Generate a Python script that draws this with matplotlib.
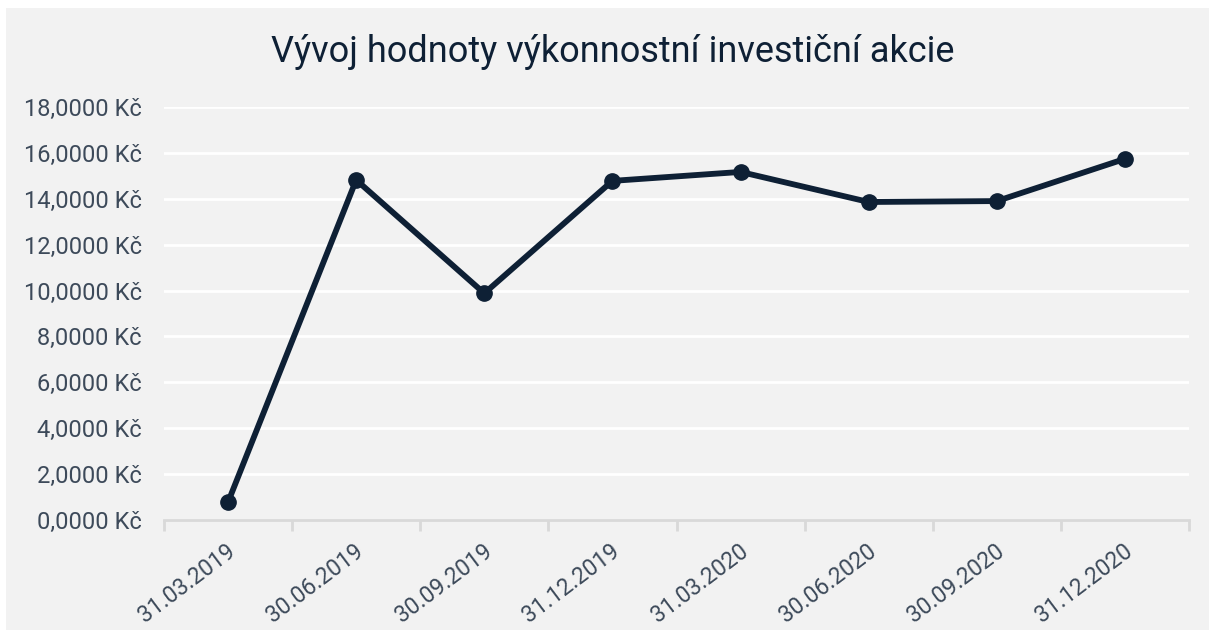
import matplotlib
matplotlib.use("Agg")
import matplotlib.pyplot as plt
from matplotlib.patches import Rectangle
from matplotlib.ticker import FuncFormatter, FixedLocator
from matplotlib.transforms import ScaledTranslation

dates = ["31.03.2019", "30.06.2019", "30.09.2019", "31.12.2019",
         "31.03.2020", "30.06.2020", "30.09.2020", "31.12.2020"]
values = [0.78, 14.82, 9.88, 14.78, 15.17, 13.86, 13.90, 15.74]
title = "Vývoj hodnoty výkonnostní investiční akcie"

W, H, DPI = 1215, 637, 100
fig = plt.figure(figsize=(W / DPI, H / DPI), dpi=DPI, facecolor="white")
bg = Rectangle((6 / W, 1 - 630 / H), (1209 - 6) / W, (630 - 8) / H,
               transform=fig.transFigure, facecolor="#f2f2f2",
               edgecolor="none", zorder=-10)
fig.add_artist(bg)

text_color = "#3d4a5a"
line_color = "#0e2035"
font = ["Roboto", "DejaVu Sans"]

left, right, top, bottom = 164, 1189, 107, 520
ax = fig.add_axes([left / W, 1 - bottom / H, (right - left) / W, (bottom - top) / H])
ax.set_facecolor("none")
ax.set_zorder(5)

x = list(range(len(dates)))
ax.plot(x, values, color=line_color, lw=4.2, marker="o", ms=11,
        solid_capstyle="round", zorder=3, clip_on=False)

ax.set_xlim(-0.5, len(dates) - 0.5)
ax.set_ylim(0, 18)
ax.set_yticks(range(0, 19, 2))
ax.yaxis.set_major_formatter(FuncFormatter(lambda v, p: f"{v:.4f}".replace(".", ",") + " Kč"))
ax.grid(axis="y", color="white", lw=2, zorder=1)
ax.set_axisbelow(True)

ax.set_xticks(x)
ax.set_xticklabels(dates, rotation=37, ha="right", rotation_mode="anchor")
ax.xaxis.set_minor_locator(FixedLocator([i - 0.5 for i in range(len(dates) + 1)]))
ax.tick_params(axis="x", which="major", length=0, pad=14)
ax.tick_params(axis="x", which="minor", length=8, width=2, color="#d9d9d9")
ax.tick_params(axis="y", length=0, pad=16)
ax.tick_params(axis="y", labelcolor=text_color, labelsize=17, labelfontfamily=font)
ax.tick_params(axis="x", labelcolor=text_color, labelsize=16.5, labelfontfamily=font)

off = ScaledTranslation(-2 / DPI, 0, fig.dpi_scale_trans)
for lab in ax.get_xticklabels():
    lab.set_transform(lab.get_transform() + off)

for s in ["top", "right", "left"]:
    ax.spines[s].set_visible(False)
ax.spines["bottom"].set_color("#d9d9d9")
ax.spines["bottom"].set_linewidth(2)

fig.text(613 / W, 1 - 52 / H, title, ha="center", va="center",
         fontsize=26, family=font, fontweight="normal", color="#0e2035")

fig.savefig("out.png", dpi=DPI, facecolor="white")
